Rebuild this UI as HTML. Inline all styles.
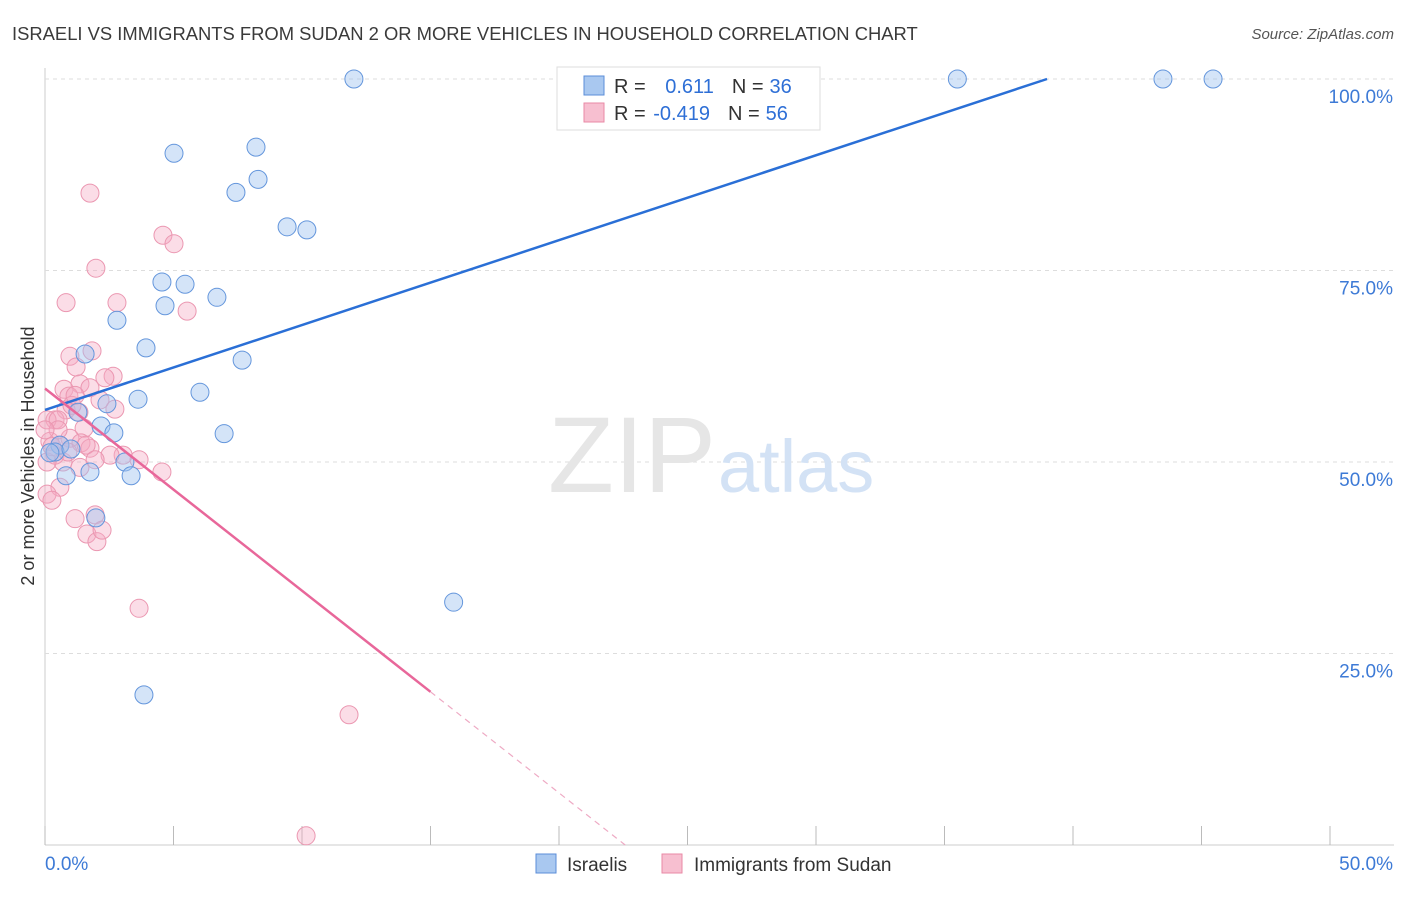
<!DOCTYPE html>
<html><head><meta charset="utf-8"><style>
body{margin:0;background:#fff;font-family:"Liberation Sans",sans-serif}
svg text{font-family:"Liberation Sans",sans-serif}
</style></head><body>
<svg id="chart" width="1406" height="892">
<text x="12" y="40" font-size="18.4" fill="#3a3a3a">ISRAELI VS IMMIGRANTS FROM SUDAN 2 OR MORE VEHICLES IN HOUSEHOLD CORRELATION CHART</text>
<text x="1394" y="39" font-size="15" fill="#555" text-anchor="end" font-style="italic">Source: ZipAtlas.com</text>
<g id="grid"></g>
<text x="716" y="492" font-size="108" fill="#e6e6e6" text-anchor="end" font-family="Liberation Serif">ZIP</text>
<text x="718" y="492" font-size="74" fill="#d3e2f5">atlas</text>
<g id="pts"></g>
<g id="lines"></g>
<text transform="translate(34,456) rotate(-90)" font-size="18" fill="#333" text-anchor="middle">2 or more Vehicles in Household</text>
<g>
<rect x="557" y="67" width="263" height="63" fill="#fff" stroke="#ddd"/>
<rect x="584" y="76" width="20" height="19" fill="#a9c8f0" stroke="#5b8ed8"/>
<rect x="584" y="103" width="20" height="19" fill="#f7bfd0" stroke="#e98aa6"/>
<text x="614" y="93" font-size="20" fill="#333">R = <tspan fill="#2e6fd6" dx="14">0.611</tspan><tspan fill="#333" dx="18">N =</tspan><tspan fill="#2e6fd6" dx="6">36</tspan></text>
<text x="614" y="120" font-size="20" fill="#333">R = <tspan fill="#2e6fd6" dx="2">-0.419</tspan><tspan fill="#333" dx="18">N =</tspan><tspan fill="#2e6fd6" dx="6">56</tspan></text>
</g>
<g>
<rect x="536" y="854" width="20" height="19" fill="#a9c8f0" stroke="#5b8ed8"/>
<text x="567" y="871" font-size="19" fill="#333">Israelis</text>
<rect x="662" y="854" width="20" height="19" fill="#f7bfd0" stroke="#e98aa6"/>
<text x="694" y="871" font-size="19" fill="#333">Immigrants from Sudan</text>
</g>
</svg>
<script>
const xTicks=[0,5,10,15,20,25,30,35,40,45,50];
const yTicks=[25,50,75,100];
const yTickLabels=["25.0%","50.0%","75.0%","100.0%"];
const israelisX=[12.02,35.5,43.5,45.45,5.02,8.21,7.43,8.29,9.42,10.19,4.55,5.45,4.67,6.69,2.80,3.93,7.67,1.56,6.03,3.62,2.41,1.28,2.18,2.68,6.97,0.58,0.39,1.75,0.82,3.11,3.35,1.98,15.9,3.85,0.19,1.01];
const israelisY=[100,100,100,100,90.3,91.1,85.2,86.9,80.7,80.3,73.5,73.2,70.4,71.5,68.5,64.9,63.3,64.1,59.1,58.2,57.6,56.5,54.7,53.8,53.7,52.2,51.3,48.7,48.2,50.0,48.2,42.7,31.7,19.6,51.2,51.7];
const sudanX=[1.75,4.59,5.02,1.98,0.82,2.80,5.53,1.83,0.97,1.21,2.65,1.36,0.74,1.75,0.93,0.82,2.14,2.72,1.32,0.39,0.08,0.51,1.52,0.97,1.40,1.75,0.19,0.39,0.70,0.08,3.04,3.66,4.55,1.36,0.58,0.08,1.17,1.95,1.63,2.02,2.22,3.66,11.83,10.16,0.27,0.58,1.05,2.33,0.51,0,0.89,1.60,2.53,0.27,1.17,1.95];
const sudanY=[85.1,79.6,78.5,75.3,70.8,70.8,69.7,64.5,63.8,62.4,61.2,60.2,59.5,59.7,58.6,56.8,58.1,56.9,56.5,55.5,55.5,55.5,54.4,53.1,52.5,51.8,52.7,50.9,50.0,50.0,50.9,50.3,48.7,49.3,46.7,45.8,42.6,43.1,40.6,39.6,41.1,30.9,17.0,1.2,52.0,52.2,57.4,61.0,54.2,54.2,51.3,52.2,50.9,45.0,58.7,50.3];
const israelisTrend=[56.8,1.108];
const sudanTrend=[59.6,-2.64];
const sudanSolidEnd=15;

const NS="http://www.w3.org/2000/svg";
const sx=v=>45+v/50*1285;
const sy=v=>845-v/100*766;
function mk(tag,attrs,parent){const e=document.createElementNS(NS,tag);for(const k in attrs)e.setAttribute(k,attrs[k]);parent.appendChild(e);return e;}
const grid=document.getElementById('grid');
let ax=mk('line',{x1:45,y1:68,x2:45,y2:845,stroke:'#ccc'},grid);


let bx=mk('line',{x1:45,y1:845,x2:1394,y2:845,stroke:'#ccc'},grid);


yTicks.forEach((t,i)=>{
  const g=mk('line',{x1:45,y1:sy(t),x2:1394,y2:sy(t),stroke:'#ddd','stroke-dasharray':'4,4'},grid);
  
  
  const tx=mk('text',{x:1393,y:sy(t)+24,'font-size':19,fill:'#3d7ad6','text-anchor':'end'},grid);
  tx.textContent=yTickLabels[i];
  
  
});
xTicks.forEach(t=>{
  const l=mk('line',{x1:sx(t),y1:826,x2:sx(t),y2:845,stroke:'#bbb'},grid);
  
  
});
const x0=mk('text',{x:45,y:870,'font-size':19,fill:'#3d7ad6'},grid);x0.textContent='0.0%';


const x1=mk('text',{x:1393,y:870,'font-size':19,fill:'#3d7ad6','text-anchor':'end'},grid);x1.textContent='50.0%';



const pts=document.getElementById('pts');
sudanX.forEach((v,i)=>{
  const c=mk('circle',{cx:sx(v),cy:sy(sudanY[i]),r:9,fill:'rgba(246,170,194,0.4)',stroke:'#eb97b1','stroke-width':1},pts);
  
  
});
israelisX.forEach((v,i)=>{
  const c=mk('circle',{cx:sx(v),cy:sy(israelisY[i]),r:9,fill:'rgba(160,196,240,0.45)',stroke:'#6496dc','stroke-width':1},pts);
  
  
});
const lines=document.getElementById('lines');
const bEnd=(100-israelisTrend[0])/israelisTrend[1];
const bl=mk('line',{x1:sx(0),y1:sy(israelisTrend[0]),x2:sx(bEnd),y2:sy(100),stroke:'#2a6fd6','stroke-width':2.5},lines);


const pl=mk('line',{x1:sx(0),y1:sy(sudanTrend[0]),x2:sx(sudanSolidEnd),y2:sy(sudanTrend[0]+sudanTrend[1]*sudanSolidEnd),stroke:'#e8679a','stroke-width':2.5},lines);


const pEnd=-sudanTrend[0]/sudanTrend[1];
const pd=mk('line',{x1:sx(sudanSolidEnd),y1:sy(sudanTrend[0]+sudanTrend[1]*sudanSolidEnd),x2:sx(pEnd),y2:sy(0),stroke:'#eeaac4','stroke-width':1.2,'stroke-dasharray':'6,5'},lines);


</script>
</body></html>
